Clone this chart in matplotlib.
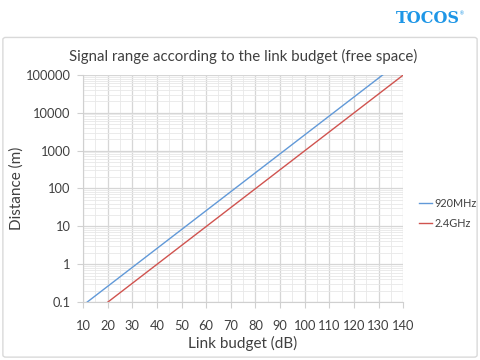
import numpy as np
import matplotlib.pyplot as plt
from matplotlib.patches import FancyBboxPatch
from matplotlib.ticker import LogLocator, MultipleLocator, FixedLocator, NullFormatter

# values
distance_m = [0.1, 1, 10, 100, 1000, 10000, 100000]
budget_920 = [11.7, 31.7, 51.7, 71.7, 91.7, 111.7, 131.7]
budget_24 = [20.1, 40.1, 60.1, 80.1, 100.1, 120.1, 140.1]
series_names = ['920MHz', '2.4GHz']
ytick_labels = ['0.1', '1', '10', '100', '1000', '10000', '100000']

plt.rcParams['font.family'] = ['Lato', 'DejaVu Sans']

fig = plt.figure(figsize=(4.8, 3.6), dpi=100)
fig.patch.set_facecolor('white')

# chart frame
frame = FancyBboxPatch((0.006, 0.008), 0.988, 0.888,
                       boxstyle='round,pad=0,rounding_size=0.006',
                       transform=fig.transFigure, facecolor='white',
                       edgecolor='#d9d9d9', linewidth=1.0, zorder=-10)
fig.patches.append(frame)

# logo
fig.text(0.892, 0.948, 'TOCOS', color='#1e96e6', fontsize=11.5,
         fontweight='bold', family='DejaVu Serif', ha='center', va='center')
fig.text(0.962, 0.962, '®', color='#1e96e6', fontsize=3.5, ha='center', va='center')

ax = fig.add_axes([0.173, 0.161, 0.667, 0.631])
ax.patch.set_alpha(0)
ax.plot(budget_920, distance_m, color='#6199d8', lw=1.0, label=series_names[0])
ax.plot(budget_24, distance_m, color='#d0534f', lw=1.0, label=series_names[1])

ax.set_yscale('log')
ax.set_xlim(10, 140)
ax.set_ylim(0.1, 100000)

ax.xaxis.set_major_locator(MultipleLocator(10))
ax.xaxis.set_minor_locator(MultipleLocator(5))
ax.yaxis.set_major_locator(FixedLocator(distance_m))
ax.set_yticklabels(ytick_labels)
ax.yaxis.set_minor_locator(LogLocator(base=10, subs=np.arange(2, 10)))
ax.yaxis.set_minor_formatter(NullFormatter())

ax.grid(which='major', color='#d6d6d6', lw=0.9)
ax.grid(which='minor', color='#e8e8e8', lw=0.6)
ax.set_axisbelow(True)

for s in ['top', 'right']:
    ax.spines[s].set_visible(False)
for s in ['left', 'bottom']:
    ax.spines[s].set_color('#d0d0d0')
    ax.spines[s].set_linewidth(0.8)

ax.tick_params(which='major', length=4, color='#d0d0d0', labelsize=9.3,
               labelcolor='#404040', pad=5)
ax.tick_params(axis='x', which='major', pad=9)
ax.tick_params(which='minor', length=0)

ax.set_title('Signal range according to the link budget (free space)',
             fontsize=10.8, color='#404040', pad=10)
ax.set_xlabel('Link budget (dB)', fontsize=11, color='#404040', labelpad=3)
ax.set_ylabel('Distance (m)', fontsize=11, color='#404040', labelpad=1)

ax.legend(loc='center left', bbox_to_anchor=(1.02, 0.39), frameon=False,
          fontsize=7.8, handlelength=1.2, handletextpad=0.2, labelspacing=0.85,
          labelcolor='#404040')

fig.savefig('out.png', dpi=100)
